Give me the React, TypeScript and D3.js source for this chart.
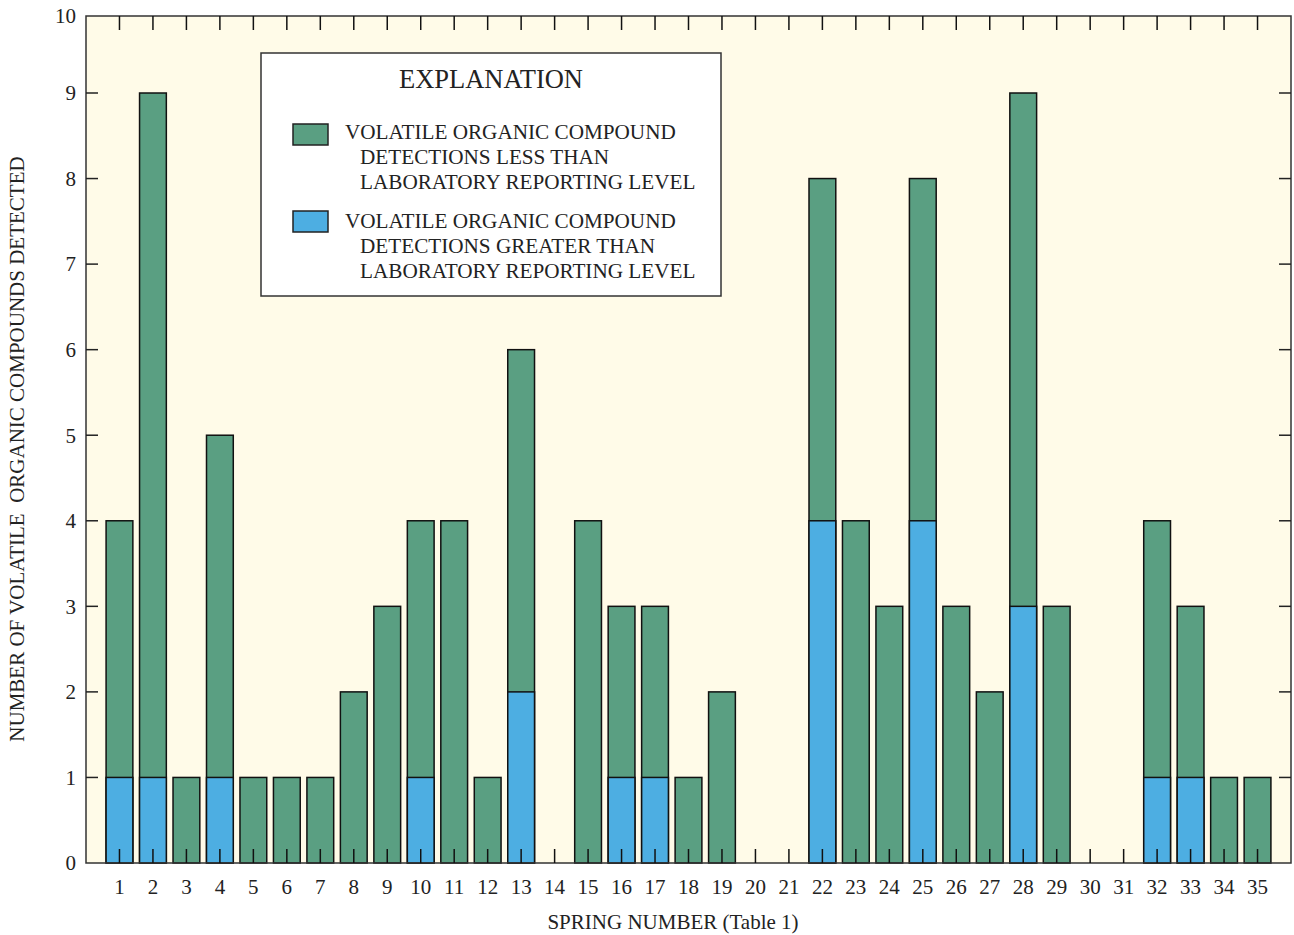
import React from "react";
import * as d3 from "d3";

// Spring numbers 1..35
const springs = d3.range(1, 36);
// Total VOC detections per spring
const totalDetections = [4, 9, 1, 5, 1, 1, 1, 2, 3, 4, 4, 1, 6, 0, 4, 3, 3, 1, 2, 0, 0, 8, 4, 3, 8, 3, 2, 9, 3, 0, 0, 4, 3, 1, 1];
// Detections greater than laboratory reporting level
const aboveLrl = [1, 1, 0, 1, 0, 0, 0, 0, 0, 1, 0, 0, 2, 0, 0, 1, 1, 0, 0, 0, 0, 4, 0, 0, 4, 0, 0, 3, 0, 0, 0, 1, 1, 0, 0];
const yTicks = [0, 1, 2, 3, 4, 5, 6, 7, 8, 9];
const yTopLabel = "10";

const GREEN = "#5a9f82";
const BLUE = "#4daee2";
const BG = "#fffbe8";
const FONT = "'Liberation Serif', 'Times New Roman', serif";

const W = 1294;
const H = 935;
const m = { left: 86, right: 1291, top: 16, bottom: 863 };

export default function App() {
  const x = d3.scaleLinear().domain([0, 36]).range([m.left, m.right]);
  // the frame top sits a little under 10, as in the original figure
  const y = d3.scaleLinear().domain([0, 9]).range([m.bottom, 93]);
  const bw = (x(1) - x(0)) * 0.8;

  return (
    <svg width={W} height={H} style={{ position: "absolute", left: 0, top: 0 }} fontFamily={FONT}>
      <rect x={m.left} y={m.top} width={m.right - m.left} height={m.bottom - m.top} fill={BG} />

      {/* bars */}
      {springs.map((s, i) => {
        const tot = totalDetections[i];
        const hi = aboveLrl[i];
        const cx = x(s);
        return (
          <g key={s}>
            <rect x={cx - bw / 2} y={y(tot)} width={bw} height={y(0) - y(tot)} fill={GREEN} stroke="#111" strokeWidth={1.5} />
            {hi > 0 && (
              <rect x={cx - bw / 2} y={y(hi)} width={bw} height={y(0) - y(hi)} fill={BLUE} stroke="#111" strokeWidth={1.5} />
            )}
          </g>
        );
      })}

      {/* frame */}
      <rect x={m.left} y={m.top} width={m.right - m.left} height={m.bottom - m.top} fill="none" stroke="#333" strokeWidth={1.5} />

      {/* y ticks */}
      {yTicks.map((t) => (
        <g key={t}>
          {t > 0 && <line x1={m.left} x2={m.left + 12} y1={y(t)} y2={y(t)} stroke="#222" strokeWidth={1.5} />}
          {t > 0 && <line x1={m.right} x2={m.right - 12} y1={y(t)} y2={y(t)} stroke="#222" strokeWidth={1.5} />}
          <text x={m.left - 10} y={y(t)} dy="0.35em" textAnchor="end" fontSize={21} fill="#222">
            {t}
          </text>
        </g>
      ))}
      <text x={m.left - 10} y={m.top} dy="0.35em" textAnchor="end" fontSize={21} fill="#222">
        {yTopLabel}
      </text>

      {/* x ticks */}
      {springs.map((s) => (
        <g key={s}>
          <line x1={x(s)} x2={x(s)} y1={m.bottom} y2={m.bottom - 14} stroke="#111" strokeWidth={1.5} />
          <line x1={x(s)} x2={x(s)} y1={m.top} y2={m.top + 14} stroke="#111" strokeWidth={1.5} />
          <text x={x(s)} y={m.bottom + 31} textAnchor="middle" fontSize={21} fill="#222">
            {s}
          </text>
        </g>
      ))}

      {/* axis titles */}
      <text x={673} y={929} textAnchor="middle" fontSize={21} fill="#222">
        SPRING NUMBER (Table 1)
      </text>
      <text
        transform={`translate(24, 449) rotate(-90)`}
        textAnchor="middle"
        fontSize={21}
        fill="#222"
        xmlSpace="preserve"
      >
        NUMBER OF VOLATILE  ORGANIC COMPOUNDS DETECTED
      </text>

      {/* legend */}
      <g>
        <rect x={261} y={53} width={460} height={243} fill="#fff" stroke="#333" strokeWidth={1.5} />
        <text x={491} y={88} textAnchor="middle" fontSize={26.5} fill="#222">
          EXPLANATION
        </text>
        <rect x={293} y={124} width={35} height={21} fill={GREEN} stroke="#222" strokeWidth={1.5} />
        <text fontSize={21.2} fill="#222">
          <tspan x={345} y={139}>VOLATILE ORGANIC COMPOUND</tspan>
          <tspan x={360} y={164}>DETECTIONS LESS THAN</tspan>
          <tspan x={360} y={189}>LABORATORY REPORTING LEVEL</tspan>
        </text>
        <rect x={293} y={211} width={35} height={21} fill={BLUE} stroke="#222" strokeWidth={1.5} />
        <text fontSize={21.2} fill="#222">
          <tspan x={345} y={228}>VOLATILE ORGANIC COMPOUND</tspan>
          <tspan x={360} y={253}>DETECTIONS GREATER THAN</tspan>
          <tspan x={360} y={278}>LABORATORY REPORTING LEVEL</tspan>
        </text>
      </g>
    </svg>
  );
}
